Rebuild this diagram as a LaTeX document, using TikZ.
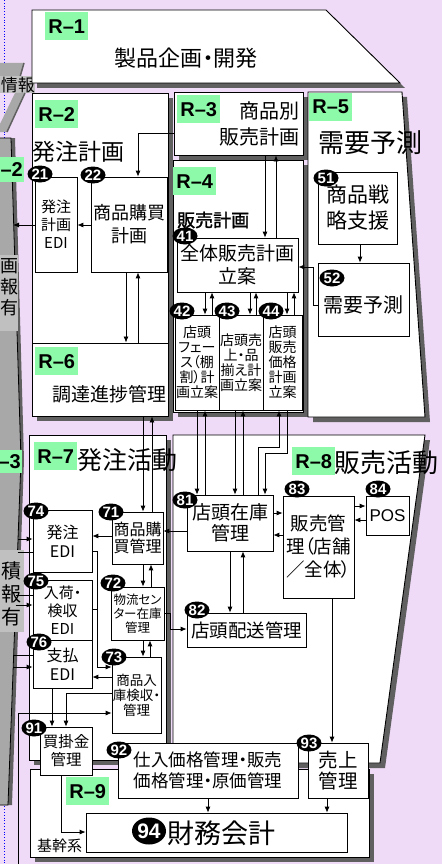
\documentclass[tikz,border=0pt]{standalone}
\usepackage{fontspec}
\usetikzlibrary{arrows.meta,shapes.geometric}
\setmainfont{Liberation Sans}
\newfontfamily\jp[RawFeature=+palt]{Noto Sans CJK JP}
\newfontfamily\jpb[RawFeature=+palt,FakeBold=1.5]{Noto Sans CJK JP}
\newcommand\setfs[2]{\fontsize{#1}{#2}\selectfont}
\definecolor{bgc}{RGB}{239,219,247}
\definecolor{lblg}{RGB}{140,250,168}
\definecolor{shdc}{RGB}{96,96,96}
\definecolor{bandc}{RGB}{168,168,168}
\definecolor{bandl}{RGB}{192,192,192}
\tikzset{
  rg/.style={draw=black, fill=white, line width=0.9pt},
  rgn/.style={draw=black, fill=white, line width=0.9pt, inner sep=0pt},
  shd/.style={fill=shdc, draw=none},
  bx/.style={draw=black, fill=white, line width=0.7pt, inner sep=0pt, align=center},
  txt/.style={inner sep=0pt, align=center},
  arr/.style={-{Latex[length=6pt,width=5pt]}, line width=0.8pt},
  ln/.style={line width=0.8pt},
  rl/.style={fill=lblg, inner sep=0pt, minimum width=43pt, minimum height=28pt, anchor=north west, font=\bfseries\setfs{20}{20}},
  nb/.style={ellipse, fill=black, text=white, inner sep=0pt, minimum width=25pt, minimum height=17pt, font=\bfseries\setfs{15}{15}},
}
\begin{document}
\begin{tikzpicture}[x=1pt,y=-1pt]
\useasboundingbox (0,0) rectangle (442,864);
\clip (0,0) rectangle (442,864);
\fill[bgc] (0,0) rectangle (442,864);
\draw[blue, dotted, line width=0.8pt] (4,0) -- (4,864);

% ---- left band (cut-off part of a wider figure)
\fill[bandc] (0,63) -- (24,63) -- (20,77) -- (0,77) -- cycle;
\draw[shdc, line width=1.5pt] (24,63) -- (20,77);
\fill[bandl] (0,76) rectangle (35,93);
\node[txt, anchor=east, font=\jp\setfs{17}{17}] (lbinfo) at (35,85) {情報};
\fill[bandc] (15,93) -- (25,93) -- (7,132) -- (0,132) -- (0,124) -- cycle;
\draw[shdc, line width=1.5pt] (25,93) -- (7,132);
\fill[shdc] (0,138) -- (15,138) -- (24,460) -- (12,805) -- (0,805) -- cycle;
\fill[bandc] (0,138) -- (11,138) -- (21,460) -- (8,805) -- (0,805) -- cycle;
\draw[line width=0.8pt] (0,138) -- (11,138) -- (21,460) -- (8,805) -- (0,805);
\node[fill=lblg, inner sep=0pt, minimum width=24pt, minimum height=25pt, anchor=north west] (lg2) at (0,157) {};
\node[txt, anchor=east, font=\bfseries\setfs{20}{20}] at (23,169.5) {–2};
\node[fill=lblg, inner sep=0pt, minimum width=22pt, minimum height=23pt, anchor=north west] (lg3) at (0,450) {};
\node[txt, anchor=east, font=\bfseries\setfs{20}{20}] at (21,461.5) {–3};
\fill[bandl] (0,255) rectangle (18,331);
\node[txt, anchor=north east, font=\jp\setfs{18}{21}] (lbA) at (19,258) {画\\報\\有};
\fill[bandl] (0,550) rectangle (24,632);
\node[txt, anchor=north east, font=\jp\setfs{20}{23}] (lbB) at (22,561) {積\\報\\有};
\coordinate (bA) at (13,225);
\coordinate (b74a) at (18,539);
\coordinate (b74b) at (17.5,552);
\coordinate (b75a) at (16,595);
\coordinate (b75b) at (15.5,605);
\coordinate (b76a) at (13.6,655);
\coordinate (b76b) at (13.2,667);
\coordinate (bot) at (18,864);

% ---- shadows
\fill[shd] (37,15) -- (331,15) -- (405,88) -- (37,88) -- cycle;
\fill[shd] (37,98) rectangle (173,348);
\fill[shd] (179,97) rectangle (308,160);
\fill[shd] (178,165) rectangle (308,417);
\fill[shd] (313,97) -- (407,97) -- (430,422) -- (313,422) -- cycle;
\fill[shd] (37,348) rectangle (173,421);
\fill[shd] (34,440) rectangle (171,765);
\fill[shd] (178,440) -- (430,440) -- (385,768) -- (178,768) -- cycle;
\fill[shd] (35,774) rectangle (374,862);

% ---- regions
\draw[rg] (32,10) -- (326,10) -- (400,83) -- (32,83) -- cycle;
\draw[rg] (32,93) rectangle (168,343);
\node[rgn, minimum width=129pt, minimum height=63pt] (r3) at (238.5,123.5) {};
\draw[rg] (173,160) rectangle (303,412);
\draw[rg] (308,92) -- (402,92) -- (425,417) -- (308,417) -- cycle;
\node[rgn, minimum width=136pt, minimum height=73pt] (r6) at (100,379.5) {};
\draw[rg] (29,435) rectangle (166,760);
\draw[rg] (173,435) -- (425,435) -- (380,763) -- (173,763) -- cycle;
\draw[rg] (30,769) rectangle (369,857);

% ---- region labels and titles
\node[rl] (l1) at (45,12) {R–1};
\node[txt, font=\jp\setfs{22}{22}] (t1) at (186,58) {製品企画・開発};
\node[rl] (l2) at (35,100) {R–2};
\node[txt, anchor=west, font=\jp\setfs{23}{23}] (t2) at (32,152) {発注計画};
\node[rl] (l3) at (177,95) {R–3};
\node[txt, anchor=north east, align=right, font=\jp\setfs{20}{25}] (t3) at (300,102) {商品別\\販売計画};
\node[rl] (l4) at (173,167) {R–4};
\node[txt, anchor=west, font=\jpb\setfs{18}{18}] (t4) at (177,220) {販売計画};
\node[rl] (l5) at (309,93) {R–5};
\node[txt, font=\jp\setfs{26}{26}] (t5) at (370,143) {需要予測};
\node[rl] (l6) at (35,347) {R–6};
\node[txt, font=\jp\setfs{19}{19}] (t6) at (109,394) {調達進捗管理};
\node[rl] (l7) at (34,442) {R–7};
\node[txt, anchor=west, font=\jp\setfs{25}{25}] (t7) at (77,460) {発注活動};
\node[rl] (l8) at (292,447) {R–8};
\node[txt, anchor=west, font=\jp\setfs{26}{26}] (t8) at (334,463) {販売活動};
\node[rl] (l9) at (66,777) {R–9};
\node[txt, anchor=west, font=\jp\setfs{15}{15}] (t9) at (37,846) {基幹系};

% ---- process boxes
\node[bx, minimum width=42pt, minimum height=95pt, font=\jp\setfs{15}{18}] (n21) at (56,224.5) {発注\\計画\\EDI};
\node[bx, minimum width=76pt, minimum height=95pt, font=\jp\setfs{18}{23}] (n22) at (129,224.5) {商品購買\\計画};
\node[bx, minimum width=121pt, minimum height=54pt, font=\jp\setfs{19}{23}] (n41) at (237.5,265) {全体販売計画\\立案};
\node[bx, minimum width=44pt, minimum height=95pt, font=\jp\setfs{14}{15}] (n42) at (197,362.5) {店頭\\フェー\\ス（棚\\割）計\\画立案};
\node[bx, minimum width=44pt, minimum height=95pt, font=\jp\setfs{14}{15}] (n43) at (241,362.5) {店頭売\\上・品\\揃え計\\画立案};
\node[bx, minimum width=39pt, minimum height=95pt, font=\jp\setfs{14}{15}] (n44) at (282.5,362.5) {店頭\\販売\\価格\\計画\\立案};
\node[bx, minimum width=79pt, minimum height=72pt, font=\jp\setfs{21}{26}] (n51) at (357.5,208) {商品戦\\略支援};
\node[bx, minimum width=91pt, minimum height=73pt] (n52) at (363.5,299.5) {};
\node[txt, font=\jp\setfs{20}{20}] (t52) at (363.5,305) {需要予測};
\node[bx, minimum width=51pt, minimum height=52pt, font=\jp\setfs{16}{17}] (n71) at (137.5,538) {商品購\\買管理};
\node[bx, minimum width=53pt, minimum height=53pt, font=\jp\setfs{12.5}{14}] (n72) at (137.5,613.5) {物流セン\\ター在庫\\管理};
\node[bx, minimum width=49pt, minimum height=76pt, font=\jp\setfs{13.5}{15}] (n73) at (136.5,695) {商品入\\庫検収・\\管理};
\node[bx, minimum width=59pt, minimum height=62pt, font=\jp\setfs{16}{19}] (n74) at (62.5,541) {発注\\EDI};
\node[bx, minimum width=59pt, minimum height=60pt, font=\jp\setfs{15}{18}] (n75) at (62.5,610) {入荷・\\検収\\EDI};
\node[bx, minimum width=59pt, minimum height=48pt, font=\jp\setfs{16}{19}] (n76) at (62.5,664) {支払\\EDI};
\node[bx, minimum width=86pt, minimum height=56pt, font=\jp\setfs{19}{21}] (n81) at (230,523) {店頭在庫\\管理};
\node[bx, minimum width=119pt, minimum height=34pt, font=\jp\setfs{18.5}{20}] (n82) at (246.5,630) {店頭配送管理};
\node[bx, minimum width=71pt, minimum height=102pt, font=\jp\setfs{18.5}{23}] (n83) at (318.5,547) {販売管\\理（店舗\\／全体）};
\node[bx, minimum width=43pt, minimum height=39pt, font=\setfs{17}{17}] (n84) at (387.5,515.5) {POS};
\node[bx, minimum width=52pt, minimum height=48pt, font=\jp\setfs{15.5}{18}] (n91) at (66,751) {買掛金\\管理};
\node[bx, minimum width=180pt, minimum height=55pt, font=\jp\setfs{17.5}{21}] (n92) at (208,770.5) {仕入価格管理・販売\\価格管理・原価管理};
\node[bx, minimum width=60pt, minimum height=55pt, font=\jp\setfs{19.5}{21}] (n93) at (338,770.5) {売上\\管理};
\node[bx, minimum width=261pt, minimum height=39pt] (n94) at (216.5,832.5) {};
\node[txt, font=\jp\setfs{27}{27}] (t94) at (221,833) {財務会計};

% ---- number badges
\node[nb] (c21) at (40,174) {21};
\node[nb] (c22) at (93,175) {22};
\node[nb] (c41) at (185,236) {41};
\node[nb] (c42) at (182,311) {42};
\node[nb] (c43) at (227,311) {43};
\node[nb] (c44) at (271,311) {44};
\node[nb] (c51) at (326,178) {51};
\node[nb] (c52) at (332,278) {52};
\node[nb] (c71) at (111,512) {71};
\node[nb] (c72) at (113,583) {72};
\node[nb] (c73) at (114,657) {73};
\node[nb] (c74) at (36,511) {74};
\node[nb] (c75) at (36,581) {75};
\node[nb] (c76) at (39,642) {76};
\node[nb] (c81) at (185,500) {81};
\node[nb] (c82) at (197,610) {82};
\node[nb] (c83) at (297,489) {83};
\node[nb] (c84) at (378,489) {84};
\node[nb] (c91) at (34,728) {91};
\node[nb] (c92) at (119,750) {92};
\node[nb] (c93) at (309,743) {93};
\node[nb, minimum width=34pt, minimum height=27pt, font=\bfseries\setfs{21}{21}] (c94) at (149,831) {94};

% ---- connectors
\draw[arr] (r3.west |- 0,133) -- (138,133) -- (n22.north -| 138,0);
\draw[arr] (n22.west |- 0,225) -- (n21.east |- 0,225);
\draw[arr] (n21.west |- 0,225) -- (bA);
\draw[arr] (n22.south -| 126,0) -- (r6.north -| 126,0);
\draw[arr] (r6.north -| 138,0) -- (n22.south -| 138,0);
\draw[arr] (r3.south -| 265,0) -- (n41.north -| 265,0);
\draw[arr] (n41.north -| 276,0) -- (r3.south -| 276,0);
\draw[arr] (n52.west |- 0,305) -- (313,305) -- (313,267) -- (n41.east |- 0,267);
\draw[arr] (n51.south -| 360,0) -- (n52.north -| 360,0);
\draw[arr] (n41.south -| 205,0) -- (n42.north -| 205,0);
\draw[arr] (n42.north -| 212,0) -- (n41.south -| 212,0);
\draw[arr] (n41.south -| 250,0) -- (n43.north -| 250,0);
\draw[arr] (n43.north -| 256,0) -- (n41.south -| 256,0);
\draw[arr] (n41.south -| 287,0) -- (n44.north -| 287,0);
\draw[arr] (n44.north -| 294,0) -- (n41.south -| 294,0);
\draw[arr] (n42.south -| 197,0) -- (n81.north -| 197,0);
\draw[arr] (n81.north -| 205,0) -- (n42.south -| 205,0);
\draw[arr] (n43.south -| 235,0) -- (n81.north -| 235,0);
\draw[arr] (n81.north -| 243,0) -- (n43.south -| 243,0);
\draw[arr] (n81.north -| 258,0) -- (258,447) -- (279,447) -- (n44.south -| 279,0);
\draw[arr] (n44.south -| 287,0) -- (287,453) -- (265,453) -- (n81.north -| 265,0);
\draw[arr] (r6.south -| 143,0) -- (n71.north -| 143,0);
\draw[arr] (n71.north -| 152,0) -- (r6.south -| 152,0);
\draw[arr] (n71.west |- 0,536) -- (n74.east |- 0,536);
\draw[arr] (n81.west |- 0,531) -- (n71.east |- 0,531);
\draw[arr] (n71.south -| 143,0) -- (n72.north -| 143,0);
\draw[arr] (n72.north -| 151,0) -- (n71.south -| 151,0);
\draw[arr] (n72.south -| 143,0) -- (n73.north -| 143,0);
\draw[arr] (n73.north -| 150,0) -- (n72.south -| 150,0);
\draw[arr] (n72.east |- 0,613) -- (170,613) -- (170,629) -- (n82.west |- 0,629);
\draw[arr] (n73.west |- 0,677) -- (n76.east |- 0,677);
\draw[arr] (n74.east |- 0,551) -- (97,551) -- (97,667) -- (n73.west |- 0,667);
\draw[ln] (n75.east |- 0,609) -- (97,609);
\draw[arr] (n76.south -| 52,0) -- (n91.north -| 52,0);
\draw[arr] (n73.west |- 0,693) -- (66,693) -- (n91.north -| 66,0);
\draw[arr] (bot) -- (18,713) -- (n73.west |- 0,713);
\draw[arr] (n91.south -| 61,0) -- (61,832) -- (n94.west |- 0,832);
\draw[arr] (n92.south -| 208,0) -- (n94.north -| 208,0);
\draw[arr] (n93.south -| 327,0) -- (n94.north -| 327,0);
\draw[arr] (n83.south -| 332,0) -- (n93.north -| 332,0);
\draw[arr] (n81.east |- 0,513) -- (n83.west |- 0,513);
\draw[arr] (n83.west |- 0,535) -- (n81.east |- 0,535);
\draw[arr] (n83.east |- 0,506) -- (n84.west |- 0,506);
\draw[arr] (n84.west |- 0,520) -- (n83.east |- 0,520);
\draw[arr] (n81.south -| 230,0) -- (n82.north -| 230,0);
\draw[arr] (n82.north -| 243,0) -- (n81.south -| 243,0);
\draw[arr] (b74a) -- (n74.west |- b74a);
\draw[ln] (b74b) -- (n74.west |- b74b);
\draw[ln] (b75a) -- (n75.west |- b75a);
\draw[arr] (b75b) -- (n75.west |- b75b);
\draw[ln] (b76a) -- (n76.west |- b76a);
\draw[arr] (b76b) -- (n76.west |- b76b);
\end{tikzpicture}
\end{document}
